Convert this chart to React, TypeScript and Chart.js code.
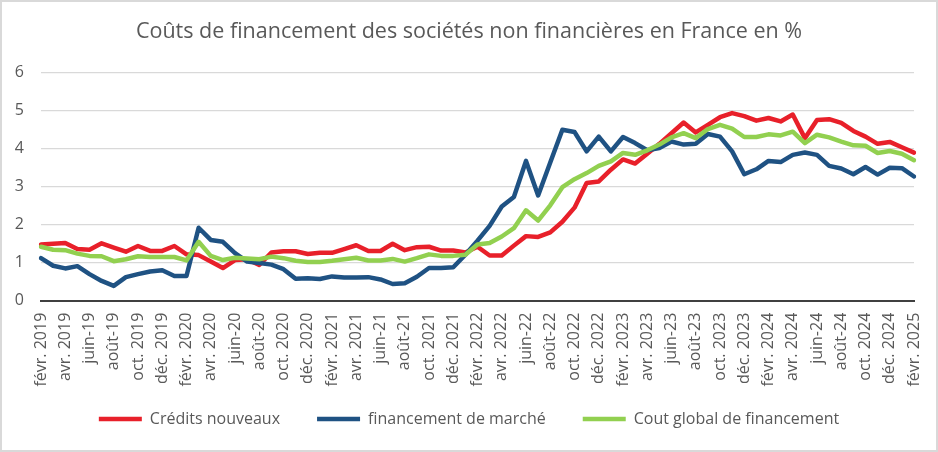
import React, { useEffect, useRef } from "react";
import { Chart, registerables } from "chart.js";

Chart.register(...registerables);

const TITLE = "Coûts de financement des sociétés non financières en France en %";

const months: string[] = [
  "févr. 2019", "mars 2019", "avr. 2019", "mai-19", "juin-19", "juil.-19", "août-19", "sept.-19", "oct. 2019", "nov. 2019", "déc. 2019",
  "janv. 2020", "févr. 2020", "mars 2020", "avr. 2020", "mai-20", "juin-20", "juil.-20", "août-20", "sept.-20", "oct. 2020", "nov. 2020", "déc. 2020",
  "janv. 2021", "févr. 2021", "mars 2021", "avr. 2021", "mai-21", "juin-21", "juil.-21", "août-21", "sept.-21", "oct. 2021", "nov. 2021", "déc. 2021",
  "janv. 2022", "févr. 2022", "mars 2022", "avr. 2022", "mai-22", "juin-22", "juil.-22", "août-22", "sept.-22", "oct. 2022", "nov. 2022", "déc. 2022",
  "janv. 2023", "févr. 2023", "mars 2023", "avr. 2023", "mai-23", "juin-23", "juil.-23", "août-23", "sept.-23", "oct. 2023", "nov. 2023", "déc. 2023",
  "janv. 2024", "févr. 2024", "mars 2024", "avr. 2024", "mai-24", "juin-24", "juil.-24", "août-24", "sept.-24", "oct. 2024", "nov. 2024", "déc. 2024",
  "janv. 2025", "févr. 2025",
];

const creditsNouveaux: number[] = [
  1.48, 1.50, 1.52, 1.36, 1.34, 1.51, 1.40, 1.29, 1.44, 1.31, 1.31, 1.44, 1.22,
  1.20, 1.03, 0.86, 1.07, 1.09, 0.94, 1.27, 1.30, 1.30, 1.23, 1.26, 1.26,
  1.36, 1.46, 1.31, 1.31, 1.50, 1.33, 1.41, 1.42, 1.32, 1.32, 1.27, 1.42,
  1.19, 1.19, 1.45, 1.70, 1.68, 1.80, 2.08, 2.45, 3.10, 3.14, 3.45, 3.72,
  3.61, 3.87, 4.13, 4.41, 4.69, 4.43, 4.63, 4.83, 4.94, 4.86, 4.74, 4.81,
  4.72, 4.90, 4.28, 4.76, 4.78, 4.68, 4.47, 4.32, 4.13, 4.18, 4.04, 3.90,
];

const financementMarche: number[] = [
  1.12, 0.92, 0.85, 0.91, 0.70, 0.52, 0.39, 0.62, 0.70, 0.77, 0.80, 0.65, 0.65,
  1.92, 1.60, 1.55, 1.25, 1.03, 0.99, 0.95, 0.83, 0.58, 0.59, 0.57, 0.64,
  0.61, 0.61, 0.62, 0.56, 0.44, 0.46, 0.63, 0.86, 0.86, 0.88, 1.21, 1.58,
  1.97, 2.48, 2.73, 3.68, 2.77, 3.64, 4.50, 4.44, 3.93, 4.32, 3.93, 4.31,
  4.15, 3.96, 4.02, 4.19, 4.11, 4.13, 4.39, 4.32, 3.93, 3.33, 3.46, 3.68,
  3.65, 3.84, 3.90, 3.84, 3.55, 3.48, 3.33, 3.52, 3.32, 3.50, 3.49, 3.27,
];

const coutGlobal: number[] = [
  1.42, 1.34, 1.33, 1.24, 1.18, 1.17, 1.04, 1.09, 1.17, 1.15, 1.15, 1.15, 1.06,
  1.55, 1.18, 1.07, 1.13, 1.11, 1.09, 1.16, 1.12, 1.05, 1.02, 1.02, 1.05,
  1.09, 1.13, 1.06, 1.06, 1.10, 1.03, 1.12, 1.22, 1.18, 1.18, 1.21, 1.48,
  1.52, 1.69, 1.91, 2.38, 2.11, 2.51, 2.99, 3.20, 3.36, 3.55, 3.67, 3.89,
  3.84, 3.96, 4.11, 4.30, 4.41, 4.28, 4.52, 4.63, 4.53, 4.31, 4.31, 4.38,
  4.35, 4.45, 4.15, 4.37, 4.30, 4.19, 4.09, 4.08, 3.89, 3.94, 3.87, 3.70,
];

const seriesNames: string[] = ["Crédits nouveaux", "financement de marché", "Cout global de financement"];
const seriesColors: string[] = ["#E8202A", "#1F5283", "#92D050"];
const yTicks: number[] = [0, 1, 2, 3, 4, 5, 6];

const FONT = "'Open Sans', 'Liberation Sans', sans-serif";
const TEXT = "#595959";

export default function App() {
  const ref = useRef<HTMLCanvasElement | null>(null);

  useEffect(() => {
    document.body.style.margin = "0";
    const canvas = ref.current;
    if (!canvas) return;
    const values = [creditsNouveaux, financementMarche, coutGlobal];
    const chart = new Chart(canvas, {
      type: "line",
      data: {
        labels: months,
        datasets: values.map((v, i) => ({
          label: seriesNames[i],
          data: v,
          borderColor: seriesColors[i],
          backgroundColor: seriesColors[i],
          borderWidth: 4.5,
          pointRadius: 0,
          pointHoverRadius: 0,
          tension: 0,
          borderCapStyle: "round" as const,
          borderJoinStyle: "round" as const,
          order: 3 - i,
        })),
      },
      options: {
        responsive: false,
        animation: false,
        layout: { padding: { left: 12, right: 12, top: 0, bottom: 15 } },
        plugins: {
          tooltip: { enabled: false },
          title: {
            display: true,
            text: TITLE,
            color: TEXT,
            font: { family: FONT, size: 21.5, weight: "normal" },
            padding: { top: 19, bottom: 28 },
          },
          legend: {
            position: "bottom",
            labels: {
              usePointStyle: true,
              pointStyle: "line",
              pointStyleWidth: 43,
              color: TEXT,
              font: { family: FONT, size: 16 },
              padding: 37,
              sort: (a: any, b: any) => a.datasetIndex - b.datasetIndex,
            },
          },
        },
        scales: {
          x: {
            grid: { display: false },
            border: { display: true, color: "#404040", width: 2 },
            ticks: {
              autoSkip: false,
              minRotation: 90,
              maxRotation: 90,
              padding: 4,
              color: TEXT,
              font: { family: FONT, size: 16 },
              callback: function (this: any, v: any, i: number) {
                return i % 2 === 0 ? months[i] : null;
              },
            },
            afterFit: (s: any) => {
              s.height = 73.3;
              s.paddingLeft = 0;
              s.paddingRight = 24;
              s._computeLabelArea = () => undefined;
            },
          },
          y: {
            min: 0,
            max: 6,
            afterBuildTicks: (s: any) => {
              s.ticks = yTicks.map((t) => ({ value: t }));
            },
            grid: { color: "#D9D9D9", lineWidth: 1.3, drawTicks: false },
            border: { display: false },
            ticks: {
              padding: 17,
              color: TEXT,
              font: { family: FONT, size: 16 },
            },
            afterFit: (s: any) => {
              s.width = 29;
            },
          },
        },
      },
    });
    return () => chart.destroy();
  }, []);

  return (
    <div style={{ position: "relative", width: 938, height: 452, background: "#fff" }}>
      <canvas ref={ref} width={938} height={452} style={{ display: "block" }} />
      <div
        style={{
          position: "absolute",
          left: 0,
          top: 0,
          width: 938,
          height: 452,
          boxSizing: "border-box",
          border: "2px solid #D9D9D9",
          pointerEvents: "none",
        }}
      />
    </div>
  );
}
